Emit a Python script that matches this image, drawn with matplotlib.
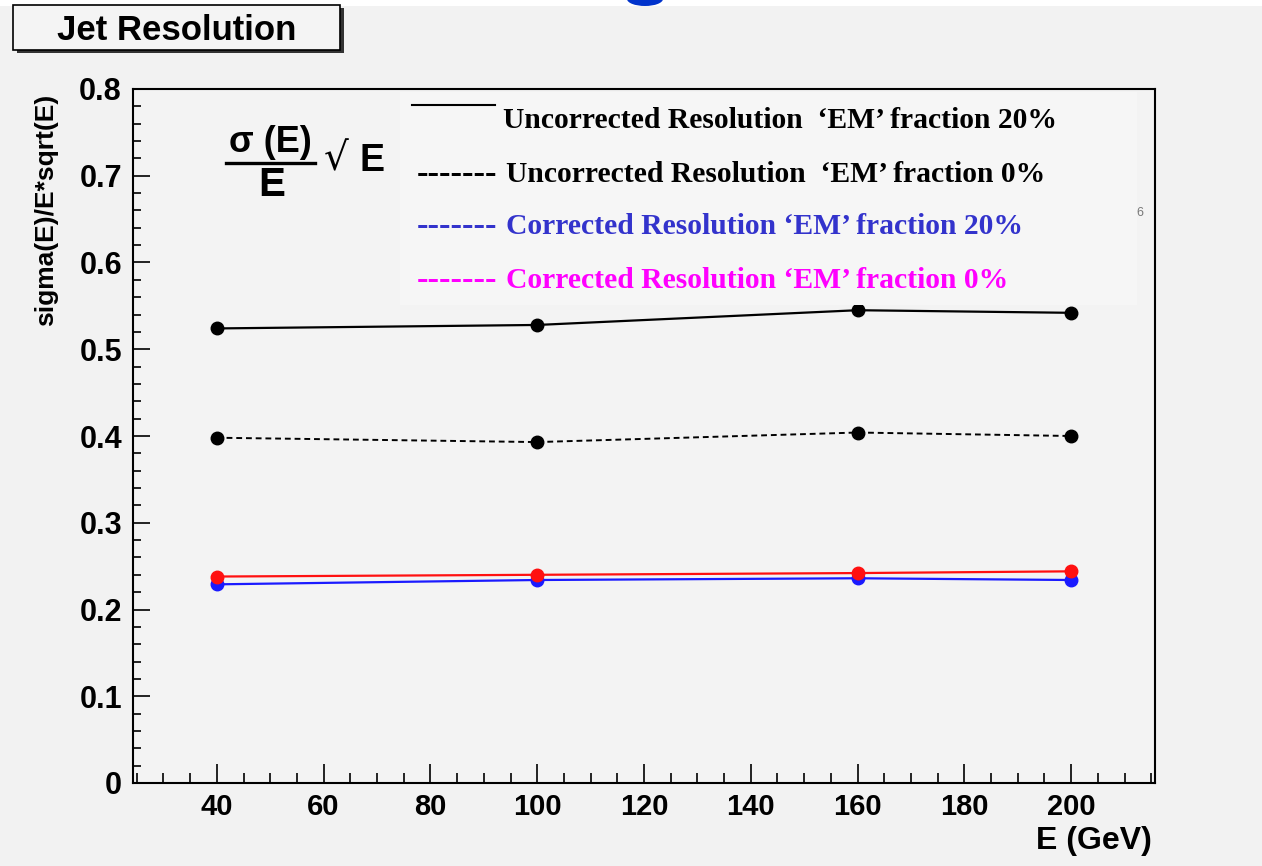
import matplotlib
matplotlib.use('Agg')
import matplotlib.pyplot as plt
from matplotlib.patches import Rectangle, Ellipse
from matplotlib.lines import Line2D
from matplotlib.ticker import MultipleLocator, FuncFormatter

# energies and resolution values
energy = [40, 100, 160, 200]
uncorr_em20 = [0.524, 0.528, 0.545, 0.542]
uncorr_em0 = [0.398, 0.393, 0.404, 0.400]
corr_em20 = [0.229, 0.234, 0.236, 0.234]
corr_em0 = [0.238, 0.240, 0.242, 0.244]
err = [0.004, 0.004, 0.004, 0.004]

legend_labels = [
    "Uncorrected Resolution  \u2018EM\u2019 fraction 20%",
    "Uncorrected Resolution  \u2018EM\u2019 fraction 0%",
    "Corrected Resolution \u2018EM\u2019 fraction 20%",
    "Corrected Resolution \u2018EM\u2019 fraction 0%",
]
legend_colors = ['black', 'black', '#3333cc', '#ff00ff']

W, H = 1262, 866
sans = ['Liberation Sans', 'DejaVu Sans']
serif = ['Liberation Serif', 'DejaVu Serif']


def px(x, y):
    # pixel position (from top-left) -> figure fraction
    return x / W, 1 - y / H


fig = plt.figure(figsize=(W / 100, H / 100), dpi=100, facecolor='#f2f2f2')
ax = fig.add_axes([133 / W, 1 - 783 / H, (1155 - 133) / W, (783 - 89) / H])
ax.set_facecolor('#f3f3f3')

ax.errorbar(energy, uncorr_em20, yerr=err, color='black', lw=1.6, marker='o', ms=9, elinewidth=2)
ax.errorbar(energy, uncorr_em0, yerr=err, color='black', lw=1.4, ls=(0, (3, 2)), marker='o', ms=9, elinewidth=2)
ax.errorbar(energy, corr_em20, yerr=err, color='#1a1aff', lw=1.6, marker='o', ms=9, elinewidth=2)
ax.errorbar(energy, corr_em0, yerr=err, color='#ff1010', lw=1.6, marker='o', ms=9, elinewidth=2)

ax.set_xlim(24.3, 215.7)
ax.set_ylim(0, 0.8)
ax.xaxis.set_major_locator(MultipleLocator(20))
ax.xaxis.set_minor_locator(MultipleLocator(5))
ax.yaxis.set_major_locator(MultipleLocator(0.1))
ax.yaxis.set_minor_locator(MultipleLocator(0.02))
ax.yaxis.set_major_formatter(FuncFormatter(lambda v, p: '0' if abs(v) < 1e-9 else f'{v:.1f}'))
ax.tick_params(which='both', direction='in', top=False, right=False, color='black', width=1.2)
ax.tick_params(axis='x', which='major', length=14, pad=7, labelsize=21)
ax.tick_params(axis='x', which='minor', length=7)
ax.tick_params(axis='y', which='major', length=12, pad=8, labelsize=22)
ax.tick_params(axis='y', which='minor', length=6)
for lab in ax.get_xticklabels() + ax.get_yticklabels():
    lab.set_fontweight('bold')
    lab.set_family(sans)
for s in ax.spines.values():
    s.set_linewidth(1.5)

# axis titles
fig.text(*px(46, 210), 'sigma(E)/E*sqrt(E)', rotation=90, ha='center', va='center',
         fontsize=19, fontweight='bold', family=sans)
fig.text(*px(1152, 841), 'E (GeV)', ha='right', va='center', fontsize=23, fontweight='bold', family=sans)

# top strip and the cut-off blue blob
fig.add_artist(Rectangle((0, 1 - 6 / H), 1, 6 / H, transform=fig.transFigure, color='white', lw=0))
fig.add_artist(Ellipse(px(645, -1), 36 / W, 14 / H, transform=fig.transFigure, color='#0033cc', lw=0))

# title box with shadow
fig.add_artist(Rectangle(px(17, 53), 327 / W, 45 / H, transform=fig.transFigure,
                         facecolor='#333333', edgecolor='none'))
fig.add_artist(Rectangle(px(13, 50), 327 / W, 45 / H, transform=fig.transFigure,
                         facecolor='#f4f4f4', edgecolor='black', lw=1.2))
fig.text(*px(177, 30), 'Jet Resolution', ha='center', va='center', fontsize=25,
         fontweight='bold', family=sans)

# formula
fig.text(*px(270, 143), '\u03c3 (E)', ha='center', va='center', fontsize=26, fontweight='bold', family=sans)
fig.add_artist(Line2D([226 / W, 315 / W], [1 - 163 / H] * 2, transform=fig.transFigure, color='black', lw=2.4))
fig.text(*px(272, 185), 'E', ha='center', va='center', fontsize=29, fontweight='bold', family=sans)
fig.text(*px(336, 159), '\u221a', ha='center', va='center', fontsize=28, family=['DejaVu Sans'])
fig.text(*px(372, 161), 'E', ha='center', va='center', fontsize=27, fontweight='bold', family=sans)

# pasted legend
fig.add_artist(Rectangle(px(400, 305), 737 / W, 213 / H, transform=fig.transFigure,
                         facecolor='#f6f6f6', edgecolor='none'))
fig.add_artist(Line2D([412 / W, 495 / W], [1 - 105 / H] * 2, transform=fig.transFigure, color='black', lw=1.5))
ys = [121, 174, 227, 280]
for i, (lab, col, yy) in enumerate(zip(legend_labels, legend_colors, ys)):
    fig.text(*px(503 if i == 0 else 506, yy), lab, ha='left', va='center', fontsize=21.3,
             fontweight='bold', family=serif, color=col)
    if i > 0:
        fig.text(*px(417, yy), '-------', ha='left', va='center', fontsize=25,
                 fontweight='bold', family=serif, color=col)
fig.text(*px(1140, 213), '6', ha='center', va='center', fontsize=9, color='#777777', family=sans)

fig.savefig('out.png', dpi=100, facecolor=fig.get_facecolor())
